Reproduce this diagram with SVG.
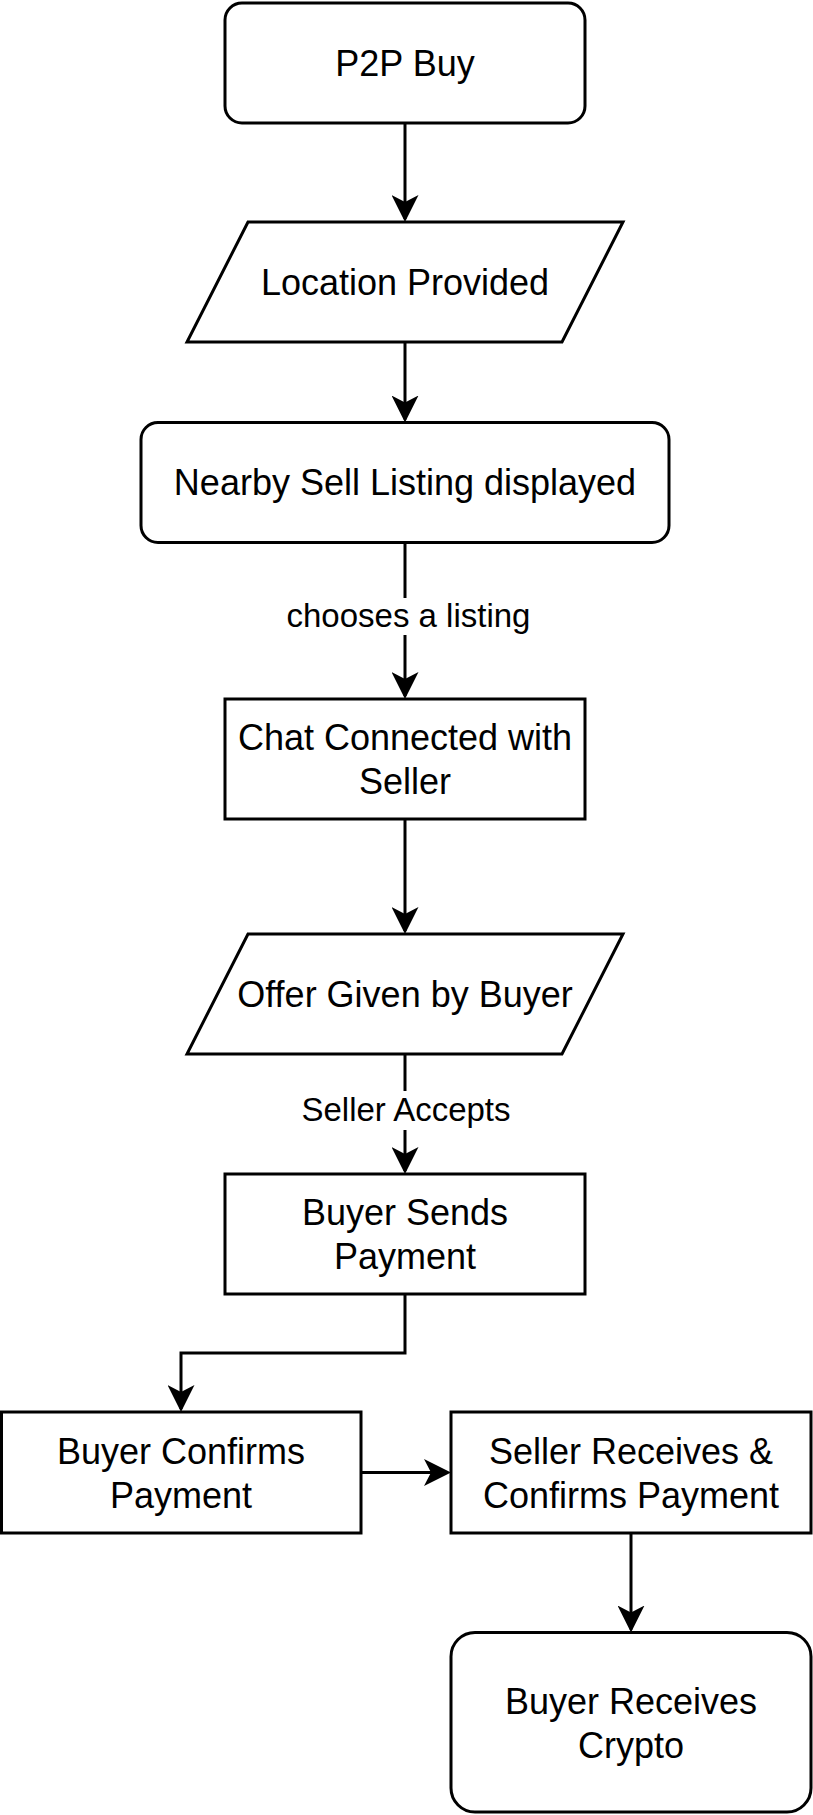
<svg xmlns="http://www.w3.org/2000/svg" width="813" height="1815" viewBox="0 0 813 1815">
<style>
.shape{fill:#ffffff;stroke:#000000;stroke-width:3;}
.conn{fill:none;stroke:#000000;stroke-width:3;marker-end:url(#arrow);}
.t{font-family:"Liberation Sans",Arial,Helvetica,sans-serif;font-size:36px;fill:#000000;text-anchor:middle;}
.lbl{font-family:"Liberation Sans",Arial,Helvetica,sans-serif;font-size:33px;fill:#000000;text-anchor:middle;}
.lblbg{fill:#ffffff;stroke:none;}
</style>
<defs>
<marker id="arrow" markerUnits="userSpaceOnUse" viewBox="0 0 27 27" markerWidth="27" markerHeight="27" refX="24" refY="13.5" orient="auto">
<path d="M0,0 L27,13.5 L0,27 L7,13.5 Z" fill="#000000"/>
</marker>
</defs>
<rect width="813" height="1815" fill="#ffffff"/>
<g id="connectors">
<path class="conn" d="M405,123 V219"/>
<path class="conn" d="M405,342 V419.5"/>
<path class="conn" d="M405,542.5 V696"/>
<rect class="lblbg" x="286" y="598" width="246" height="37"/>
<text class="lbl" x="408.5" y="627">chooses a listing</text>
<path class="conn" d="M405,819 V931"/>
<path class="conn" d="M405,1054 V1171"/>
<rect class="lblbg" x="300" y="1091" width="212" height="39"/>
<text class="lbl" x="406" y="1121">Seller Accepts</text>
<path class="conn" d="M405,1294 V1353 H181 V1409"/>
<path class="conn" d="M361,1472.5 H448"/>
<path class="conn" d="M631,1533 V1629.5"/>
</g>
<g id="node-p2p-buy">
<rect class="shape" x="225" y="3" width="360" height="120" rx="17" ry="17"/>
<text class="t" x="405" y="75.5">P2P Buy</text>
</g>
<g id="node-location-provided">
<polygon class="shape" points="248,222 623,222 562,342 187,342"/>
<text class="t" x="405" y="294.5">Location Provided</text>
</g>
<g id="node-nearby-sell">
<rect class="shape" x="141" y="422.5" width="528" height="120" rx="17" ry="17"/>
<text class="t" x="405" y="495">Nearby Sell Listing displayed</text>
</g>
<g id="node-chat-connected">
<rect class="shape" x="225" y="699" width="360" height="120"/>
<text class="t" x="405" y="750">Chat Connected with</text>
<text class="t" x="405" y="793.5">Seller</text>
</g>
<g id="node-offer-given">
<polygon class="shape" points="248,934 623,934 562,1054 187,1054"/>
<text class="t" x="405" y="1006.5">Offer Given by Buyer</text>
</g>
<g id="node-buyer-sends">
<rect class="shape" x="225" y="1174" width="360" height="120"/>
<text class="t" x="405" y="1225">Buyer Sends</text>
<text class="t" x="405" y="1268.5">Payment</text>
</g>
<g id="node-buyer-confirms">
<rect class="shape" x="1.5" y="1412" width="359.5" height="121"/>
<text class="t" x="181" y="1464">Buyer Confirms</text>
<text class="t" x="181" y="1507.5">Payment</text>
</g>
<g id="node-seller-receives">
<rect class="shape" x="451" y="1412" width="360" height="121"/>
<text class="t" x="631" y="1464">Seller Receives &amp;</text>
<text class="t" x="631" y="1507.5">Confirms Payment</text>
</g>
<g id="node-buyer-receives">
<rect class="shape" x="451" y="1632.5" width="360" height="179.5" rx="24" ry="24"/>
<text class="t" x="631" y="1714">Buyer Receives</text>
<text class="t" x="631" y="1757.5">Crypto</text>
</g>
</svg>
